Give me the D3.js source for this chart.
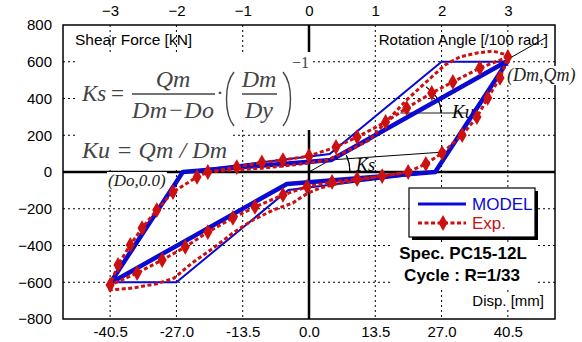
<!DOCTYPE html>
<html><head><meta charset="utf-8">
<script src="https://cdn.jsdelivr.net/npm/d3@7"></script>
<style>body{margin:0;background:#fff}svg{display:block}</style>
</head><body><div id="chart"></div>
<script>
// ---- data ----
const dispTicks = [-40.5,-27,-13.5,0,13.5,27,40.5];
const dispTickLabels = ["-40.5","-27.0","-13.5","0.0","13.5","27.0","40.5"];
const rotTicks = [-3,-2,-1,0,1,2,3];
const forceTicks = [-800,-600,-400,-200,0,200,400,600,800];

// MODEL (thick loop)
const modelThickDisp  = [40.5, 25.7, -4.5, -40.5, -25.7, 4.5, 40.5];
const modelThickForce = [605, 0, -65, -605, 0, 65, 605];
// MODEL thin branches
const modelThinUpDisp  = [40.5, 27, 4.2, -25.7];
const modelThinUpForce = [600, 600, 98, 0];
const modelThinLoDisp  = [-40.5, -27, -4.2, 25.7];
const modelThinLoForce = [-600, -600, -98, 0];

// Experiment loop (with markers)
const expDisp  = [-14.7,-9.6,-5.3,0,5.5,9.8,15.6,19.9,25,29.3,34.8,40.5,38.9,36.4,34.2,31.2,27.1,23.8,20.2,14.9,9.8,4.7,-0.4,-5.3,-11,-15.5,-20.6,-25.2,-29.9,-35,-40.5,-38.9,-36.4,-34,-31,-27.7,-22.8,-20.6,-14.7];
const expForce = [27,52,65,87,136,190,272,348,430,490,566,626,512,403,299,201,103,44,0,-22,-38,-54,-80,-125,-190,-250,-327,-408,-479,-550,-615,-506,-397,-305,-207,-109,-27,0,27];
// Experiment outer branches (no markers)
const expOuterUpDisp  = [-20.6,-10,-3.3,0,3.7,8.3,12.4,15.1,20,25.5,27.7,30.7,34.2,37.5,39.9,40.5];
const expOuterUpForce = [0,20,38,49,65,120,175,256,395,530,582,626,648,658,640,626];
const expOuterLoDisp  = [20.2,12.4,6,2,0,-1.8,-3.3,-7.3,-11.4,-15.5,-19.5,-23.8,-27.5,-31,-35.8,-40.5,-40.5];
const expOuterLoForce = [0,-33,-62,-90,-112,-141,-169,-207,-261,-332,-414,-495,-578,-608,-631,-642,-615];

// reference lines
const kuLineDisp = [0, 48.5], kuLineForce = [0, 735];
const ksLineDisp = [4.5, 27.1], ksLineForce = [66, 108];
const kuHorizDisp = [18.6, 32], kuHorizForce = [321, 321];

// ---- chart ----
const W = 582, H = 342;
const L = 63, R = 555, T = 25, B = 319;
const svg = d3.select("#chart").append("svg").attr("width", W).attr("height", H)
  .style("font-family", "'Liberation Sans', Arial, sans-serif");

const x = d3.scaleLinear().domain([-50.1, 50.1]).range([L, R]);
const xr = d3.scaleLinear().domain([-50.1/13.5, 50.1/13.5]).range([L, R]);
const y = d3.scaleLinear().domain([-800, 800]).range([B, T]);

const BLUE = "#0a0ad2", RED = "#cc1010";

// grid
const grid = svg.append("g").attr("stroke", "#000").attr("stroke-width", 1).attr("stroke-dasharray", "2,3");
dispTicks.filter(d => d !== 0).forEach(d => grid.append("line").attr("x1", x(d)).attr("x2", x(d)).attr("y1", T).attr("y2", B));
forceTicks.filter(d => d !== 0 && Math.abs(d) !== 800).forEach(d => grid.append("line").attr("x1", L).attr("x2", R).attr("y1", y(d)).attr("y2", y(d)));

// zero lines
svg.append("line").attr("x1", L).attr("x2", R).attr("y1", y(0)).attr("y2", y(0)).attr("stroke", "#000").attr("stroke-width", 2.5);
svg.append("line").attr("x1", x(0)).attr("x2", x(0)).attr("y1", T).attr("y2", B).attr("stroke", "#000").attr("stroke-width", 2.5);
// frame
svg.append("rect").attr("x", L).attr("y", T).attr("width", R - L).attr("height", B - T).attr("fill", "none").attr("stroke", "#000").attr("stroke-width", 1.5);

// axes (labels)
const axL = svg.append("g").attr("transform", `translate(${L},0)`).call(d3.axisLeft(y).tickValues(forceTicks).tickSize(0).tickPadding(11));
const axB = svg.append("g").attr("transform", `translate(0,${B})`).call(d3.axisBottom(x).tickValues(dispTicks).tickFormat((d, i) => dispTickLabels[i]).tickSize(0).tickPadding(7));
const axT = svg.append("g").attr("transform", `translate(0,${T})`).call(d3.axisTop(xr).tickValues(rotTicks).tickFormat(d3.format("d")).tickSize(0).tickPadding(9));
[axL, axB, axT].forEach(a => {
  a.select(".domain").remove();
  a.selectAll("text").attr("font-size", 15).attr("font-family", "'Liberation Sans', Arial, sans-serif").attr("fill", "#000");
});

// formula boxes
svg.append("rect").attr("x", 75).attr("y", 52).attr("width", 238).attr("height", 78).attr("fill", "#fff");
svg.append("rect").attr("x", 75).attr("y", 130).attr("width", 157).attr("height", 38).attr("fill", "#fff");
const F = svg.append("g").attr("fill", "#444").style("font-family", "'Liberation Serif', 'Times New Roman', serif");
F.append("text").attr("x", 82).attr("y", 101).attr("font-size", 23).attr("font-style", "italic").text("Ks");
F.append("text").attr("x", 111).attr("y", 101).attr("font-size", 23).text("=");
F.append("line").attr("x1", 132).attr("x2", 215).attr("y1", 94).attr("y2", 94).attr("stroke", "#444").attr("stroke-width", 1.3);
F.append("text").attr("x", 173).attr("y", 87).attr("text-anchor", "middle").attr("font-size", 24).attr("font-style", "italic").text("Qm");
F.append("text").attr("x", 173).attr("y", 118).attr("text-anchor", "middle").attr("font-size", 24).attr("font-style", "italic").attr("textLength", 82).attr("lengthAdjust", "spacing").text("Dm\u2212Do");
F.append("text").attr("x", 220).attr("y", 100).attr("text-anchor", "middle").attr("font-size", 22).text("\u00b7");
F.append("path").attr("d", "M234,72 C224,84 224,114 234,126").attr("fill", "none").attr("stroke", "#444").attr("stroke-width", 1.4);
F.append("path").attr("d", "M283,72 C293,84 293,114 283,126").attr("fill", "none").attr("stroke", "#444").attr("stroke-width", 1.4);
F.append("line").attr("x1", 242).attr("x2", 277).attr("y1", 94).attr("y2", 94).attr("stroke", "#444").attr("stroke-width", 1.3);
F.append("text").attr("x", 259).attr("y", 87).attr("text-anchor", "middle").attr("font-size", 24).attr("font-style", "italic").text("Dm");
F.append("text").attr("x", 259).attr("y", 118).attr("text-anchor", "middle").attr("font-size", 24).attr("font-style", "italic").text("Dy");
F.append("text").attr("x", 292).attr("y", 68).attr("font-size", 16).text("\u22121");
F.append("text").attr("x", 82).attr("y", 158).attr("font-size", 24).attr("font-style", "italic").attr("textLength", 145).attr("lengthAdjust", "spacing").text("Ku = Qm / Dm");

// titles
svg.append("text").attr("x", 75).attr("y", 45).attr("font-size", 15.5).text("Shear Force [kN]");
svg.append("text").attr("x", 548).attr("y", 45).attr("font-size", 15).attr("text-anchor", "end").text("Rotation Angle [/100 rad.]");

const line = d3.line().x(d => x(d[0])).y(d => y(d[1]));
const pts = (a, b) => a.map((d, i) => [d, b[i]]);

// reference black lines
svg.append("path").attr("d", line(pts(kuLineDisp, kuLineForce))).attr("fill", "none").attr("stroke", "#000").attr("stroke-width", 1);
svg.append("path").attr("d", line(pts(ksLineDisp, ksLineForce))).attr("fill", "none").attr("stroke", "#000").attr("stroke-width", 1);
svg.append("path").attr("d", line(pts(kuHorizDisp, kuHorizForce))).attr("fill", "none").attr("stroke", "#666").attr("stroke-width", 1.5);
// angle arcs
const arcKu = d3.arc()({innerRadius: 30, outerRadius: 30, startAngle: Math.PI/2 - 1.05, endAngle: Math.PI/2});
svg.append("path").attr("d", arcKu).attr("transform", `translate(${x(20.8)},${y(321)})`).attr("fill", "none").attr("stroke", "#000").attr("stroke-width", 1);
const arcKs = d3.arc()({innerRadius: 41, outerRadius: 41, startAngle: Math.PI/2 - 0.42, endAngle: Math.PI/2});
svg.append("path").attr("d", arcKs).attr("transform", `translate(${x(0)},${y(0)})`).attr("fill", "none").attr("stroke", "#000").attr("stroke-width", 1);
svg.append("text").attr("x", 356).attr("y", 171).attr("font-size", 18).attr("font-style", "italic").style("font-family", "'Liberation Serif', serif").text("Ks");
svg.append("text").attr("x", 452).attr("y", 118).attr("font-size", 19).attr("font-style", "italic").style("font-family", "'Liberation Serif', serif").text("Ku");

// MODEL
svg.append("path").attr("d", line(pts(modelThinUpDisp, modelThinUpForce))).attr("fill", "none").attr("stroke", BLUE).attr("stroke-width", 2);
svg.append("path").attr("d", line(pts(modelThinLoDisp, modelThinLoForce))).attr("fill", "none").attr("stroke", BLUE).attr("stroke-width", 2);
svg.append("path").attr("d", line(pts(modelThickDisp, modelThickForce))).attr("fill", "none").attr("stroke", BLUE).attr("stroke-width", 4.5).attr("stroke-linejoin", "round");

// EXP
const dash = "4,2.5";
[[expOuterUpDisp, expOuterUpForce], [expOuterLoDisp, expOuterLoForce], [expDisp, expForce]].forEach(([a, b]) => {
  svg.append("path").attr("d", line(pts(a, b)))
    .attr("fill", "none").attr("stroke", RED).attr("stroke-width", 3).attr("stroke-dasharray", dash);
});
const diamond = d3.symbol().type(d3.symbolDiamond).size(72);
svg.append("g").selectAll("path").data(pts(expDisp, expForce).slice(0, -1)).join("path")
  .attr("d", diamond).attr("transform", d => `translate(${x(d[0])},${y(d[1])})`).attr("fill", RED);

// point labels with white background
function bgText(tx, ty, txt, opts) {
  const g = svg.append("g");
  const t = g.append("text").attr("x", tx).attr("y", ty).text(txt);
  Object.entries(opts).forEach(([k, v]) => k.startsWith("s:") ? t.style(k.slice(2), v) : t.attr(k, v));
  const bb = t.node().getBBox();
  g.insert("rect", "text").attr("x", bb.x - 1).attr("y", bb.y + 1).attr("width", bb.width + 2).attr("height", bb.height - 2).attr("fill", "#fff");
  return t;
}
bgText(507, 81, "(Dm,Qm)", {"font-size": 18, "font-style": "italic", "s:font-family": "'Liberation Serif', serif", fill: "#222"});
bgText(108, 186, "(Do,0.0)", {"font-size": 17, "font-style": "italic", "s:font-family": "'Liberation Serif', serif", fill: "#222"});

// legend
svg.append("rect").attr("x", 412).attr("y", 191).attr("width", 126).attr("height", 49).attr("fill", "#000");
svg.append("rect").attr("x", 409).attr("y", 188).attr("width", 126).attr("height", 49).attr("fill", "#fff").attr("stroke", "#000").attr("stroke-width", 1.2);
svg.append("line").attr("x1", 418).attr("x2", 466).attr("y1", 204).attr("y2", 204).attr("stroke", BLUE).attr("stroke-width", 3);
svg.append("text").attr("x", 472).attr("y", 210).attr("font-size", 17).attr("fill", BLUE).text("MODEL");
svg.append("line").attr("x1", 418).attr("x2", 466).attr("y1", 223).attr("y2", 223).attr("stroke", RED).attr("stroke-width", 3).attr("stroke-dasharray", dash);
svg.append("path").attr("d", diamond).attr("transform", "translate(443,223)").attr("fill", RED);
svg.append("text").attr("x", 472).attr("y", 229).attr("font-size", 17).attr("fill", RED).text("Exp.");

// spec text
svg.append("rect").attr("x", 391).attr("y", 243).attr("width", 147).attr("height", 46).attr("fill", "#fff");
svg.append("text").attr("x", 463).attr("y", 259).attr("text-anchor", "middle").attr("font-size", 17).attr("font-weight", "bold").text("Spec. PC15-12L");
svg.append("text").attr("x", 462).attr("y", 281).attr("text-anchor", "middle").attr("font-size", 17).attr("font-weight", "bold").text("Cycle : R=1/33");
bgText(544, 306, "Disp. [mm]", {"font-size": 15, "text-anchor": "end"});
</script></body></html>
